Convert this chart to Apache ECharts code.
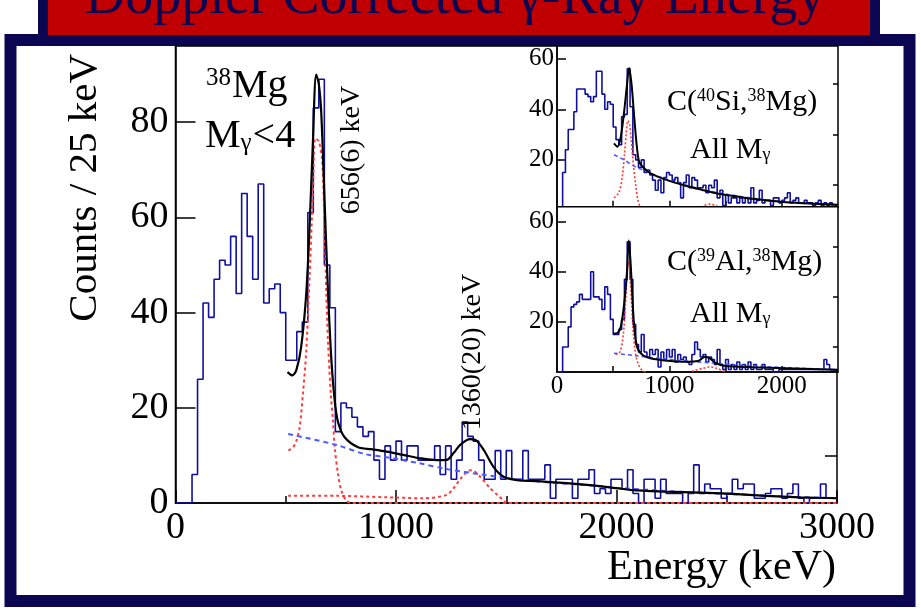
<!DOCTYPE html>
<html>
<head>
<meta charset="utf-8">
<script src="https://cdn.jsdelivr.net/npm/echarts@6/dist/echarts.min.js"></script>
<style>
  html, body { margin: 0; padding: 0; background: #ffffff; }
  #chart { width: 921px; height: 614px; }
</style>
</head>
<body>
<div id="chart"></div>
<script>
// 38Mg gamma-ray spectra, 25 keV bins
const binWidth = 25;

// Main spectrum (M_gamma < 4), bins starting at 0 keV
const mainCounts = [
  0, 0, 0, 6, 26, 42, 39, 47, 51, 50,
  56, 44, 65, 56, 47, 67, 42, 45, 46, 40,
  30, 30, 36, 38, 61, 83, 89, 50, 41, 15,
  21, 20, 18, 16, 14, 15, 9, 5, 12, 9,
  13, 9, 12, 12, 9, 9, 9, 12, 6, 12,
  5, 9, 17, 14, 13, 9, 5, 5, 11, 5,
  11, 5, 5, 11, 5, 5, 5, 8, 1, 5,
  5, 5, 1, 5, 5, 7, 2, 3, 2, 5,
  5, 3, 7, 2, 0, 5, 5, 1, 5, 2,
  2, 2, 0, 2, 8, 2, 4, 3, 3, 1,
  2, 5, 3, 4, 4, 1, 1, 2, 3, 3,
  1, 2, 4, 1, 0, 1, 1, 4, 1, 1
];

// Inset: C(40Si,38Mg), all multiplicities
const si40Counts = [
  0, 0, 15, 24, 32, 32, 39, 48, 48, 48,
  46, 45, 43, 45, 55, 55, 46, 40, 43, 42,
  33, 28, 26, 37, 38, 56, 41, 22, 20, 17,
  20, 15, 16, 14, 12, 8, 12, 7, 13, 15,
  14, 12, 13, 11, 5, 11, 14, 9, 13, 12,
  9, 9, 10, 7, 10, 9, 12, 5, 8, 2,
  6, 3, 5, 5, 3, 5, 3, 5, 3, 9,
  3, 4, 8, 3, 4, 4, 2, 5, 5, 3,
  4, 5, 7, 3, 4, 5, 3, 3, 4, 3,
  3, 2, 3, 4, 2, 3, 2, 3, 1, 2
];

// Inset: C(39Al,38Mg), all multiplicities
const al39Counts = [
  0, 0, 10, 10, 18, 26, 27, 28, 31, 29,
  29, 29, 40, 30, 30, 29, 25, 34, 31, 21,
  15, 15, 17, 21, 37, 52, 37, 19, 11, 8,
  15, 8, 6, 9, 7, 9, 2, 8, 5, 9,
  6, 9, 4, 7, 5, 6, 4, 3, 7, 12,
  9, 6, 7, 4, 6, 5, 3, 9, 3, 1,
  5, 1, 3, 1, 4, 1, 3, 1, 4, 1,
  3, 1, 1, 3, 1, 1, 1, 0, 0, 1,
  1, 1, 1, 1, 1, 1, 1, 1, 1, 1,
  1, 1, 1, 1, 1, 5, 3, 1, 1, 1
];

// Fit components, main spectrum [keV, counts]
const mainTotalFit = [
  [508, 27.5], [530, 26.8], [548, 27.9], [570, 32.8], [593, 44], [608, 58],
  [623, 75.6], [638, 90], [650, 88], [661, 82], [676, 63.6], [692, 44],
  [707, 30], [722, 21.5], [737, 17], [767, 13.8], [828, 11.7], [888, 11.3],
  [957, 10.8], [1033, 10.1], [1109, 9.4], [1185, 9.0], [1230, 9.05],
  [1261, 10.5], [1291, 12.2], [1336, 13.4], [1359, 13.3], [1397, 11.2],
  [1442, 7.6], [1488, 5.5], [1548, 4.8], [1640, 4.6], [1700, 4.4],
  [1842, 3.9], [1970, 3.3], [2072, 2.7], [2223, 2.4], [2375, 2.2],
  [2527, 1.9], [2678, 1.5], [2830, 1.2], [3000, 1.0]
];
const mainBackground = [
  [511, 14.5], [730, 12.2], [857, 10.3], [957, 9.6], [1100, 8.4],
  [1235, 7.1], [1387, 6.0], [1539, 5.0], [1700, 4.3], [1850, 3.8],
  [2000, 3.2], [2200, 2.6], [2400, 2.1], [2600, 1.7], [2800, 1.3], [3000, 1.0]
];
const mainLine656 = [
  [512, 11], [533, 11.7], [548, 13], [563, 15.9], [578, 23], [593, 32],
  [608, 47.5], [623, 65], [634, 76.6], [650, 76], [665, 72], [676, 58],
  [684, 44], [692, 33.5], [704, 23], [714, 17.3], [722, 11.7], [737, 6.1],
  [752, 2.6], [775, 0.5], [798, 0], [3000, 0]
];
const mainLine1360 = [
  [511, 1.5], [730, 1.5], [957, 1.2], [1124, 1.0], [1230, 1.7], [1261, 3.1],
  [1291, 5.0], [1329, 6.8], [1344, 6.9], [1382, 5.5], [1427, 3.1],
  [1465, 1.5], [1488, 0.5], [1503, 0], [3000, 0]
];

// Fit components, C(40Si,38Mg) inset
const si40TotalFit = [
  [507, 26.5], [537, 25.2], [567, 29], [597, 39], [621, 49], [642, 56.3],
  [663, 50], [687, 37], [711, 25], [732, 19.2], [777, 16.6], [837, 14.6],
  [987, 11.9], [1137, 9.9], [1287, 8.2], [1437, 6.6], [1587, 5.6],
  [1737, 4.6], [2037, 3.3], [2337, 2.6], [2500, 2.25]
];
const si40Background = [
  [507, 22], [597, 20], [687, 17.5], [777, 15.8], [900, 13.5], [1100, 10.6],
  [1300, 8.2], [1500, 6.5], [1800, 4.5], [2100, 3.2], [2500, 2.1]
];
const si40Line656 = [
  [507, 5], [550, 7], [580, 13], [600, 22], [615, 30], [630, 35.5],
  [645, 34], [660, 28], [680, 18], [700, 10], [720, 4], [740, 1.5], [760, 0]
];
const si40Line1360 = [
  [1250, 0.5], [1300, 1.8], [1360, 2.5], [1420, 1.8], [1480, 0.5]
];

// Fit components, C(39Al,38Mg) inset
const al39TotalFit = [
  [507, 15.4], [537, 15.6], [567, 18], [597, 27], [621, 39], [639, 52.5],
  [657, 42], [675, 26], [693, 15.4], [717, 9.4], [762, 6.8], [837, 5.4],
  [987, 4.5], [1137, 4.1], [1257, 4.4], [1317, 6.1], [1362, 5.4],
  [1407, 3.7], [1497, 2.4], [1737, 1.9], [2037, 1.5], [2337, 1.1], [2500, 0.8]
];
const al39Background = [
  [507, 7.5], [700, 6.5], [900, 5.5], [1200, 4.2], [1400, 3.5],
  [1600, 2.8], [2000, 1.8], [2500, 0.9]
];
const al39Line656 = [
  [520, 7], [560, 8], [590, 15], [610, 28], [625, 40], [636, 44],
  [650, 38], [665, 26], [680, 15], [700, 7], [725, 3], [760, 0.5], [800, 0]
];
const al39Line1360 = [
  [1200, 0.3], [1300, 1.5], [1360, 2], [1420, 1.5], [1500, 0]
];

// Axis ticks
const mainXTicks = [0, 1000, 2000, 3000];
const mainYMajor = [0, 20, 40, 60, 80];
const mainYMinor = [10, 30, 50, 70, 90];
const insetXLabels = [0, 1000, 2000];
const insetXTicks = [500, 1000, 1500, 2000];
const insetYMajor = [20, 40, 60];
const insetYMinor = [10, 30, 50];

const SERIF = 'Liberation Serif';
const HIST = '#1010a0';
const FIT = '#000000';
const RED = '#ff3b3b';
const BLUE = '#4a5cff';
const NAVY = '#0b0552';

function histPoints(counts) {
  const pts = counts.map((c, i) => [i * binWidth, c]);
  pts.push([counts.length * binWidth, counts[counts.length - 1]]);
  return pts;
}
const plain = v => String(v);

// Main plot box and two insets (pixel layout of the page)
const grids = [
  { left: 175.5, top: 46, width: 661.5, height: 457 },
  { left: 557, top: 46, width: 281, height: 160.7 },
  { left: 557, top: 206.7, width: 281, height: 165.3 }
].map((g, i) => Object.assign(g, {
  show: true, backgroundColor: '#ffffff', borderColor: '#000000',
  borderWidth: 1.5, z: i === 0 ? 0 : 10 + i * 10
}));

function xAxisFor(gi, max, labels, ticks, tickLen, minorLen, showLabels, fontSize, z) {
  const ax = {
    type: 'value', gridIndex: gi, min: 0, max: max, z: z,
    axisLine: { show: true, onZero: false, lineStyle: { color: '#000', width: 1.5 } },
    splitLine: { show: false },
    axisTick: { show: true, inside: true, length: tickLen, lineStyle: { color: '#000', width: 1.5 } },
    axisLabel: {
      show: showLabels, color: '#000', fontFamily: SERIF, fontSize: fontSize, formatter: plain,
      margin: gi === 0 ? 6 : 2, showMinLabel: true, showMaxLabel: true
    }
  };
  if (gi === 0) {
    ax.interval = 1000;
    ax.minorTick = { show: true, splitNumber: 2, length: minorLen, lineStyle: { color: '#000', width: 1.5 } };
  } else {
    ax.axisLabel.customValues = labels;
    ax.axisTick.customValues = ticks;
  }
  return ax;
}

function yAxisFor(gi, min, max, values, tickLen, withLabels, fontSize, z) {
  return {
    type: 'value', gridIndex: gi, min: min, max: max, z: z,
    axisLine: { show: withLabels, onZero: false, lineStyle: { color: '#000', width: 1.5 } },
    splitLine: { show: false },
    axisTick: { show: true, inside: true, length: tickLen, customValues: values,
      lineStyle: { color: '#000', width: 1.5 } },
    axisLabel: {
      show: withLabels, customValues: values, color: '#000', fontFamily: SERIF,
      fontSize: fontSize, margin: gi === 0 ? 7 : 3, formatter: plain
    }
  };
}

const xAxes = [
  xAxisFor(0, 3000, mainXTicks, null, 13, 7, true, 38, 1),
  xAxisFor(1, 2500, insetXLabels, insetXTicks, 6, 0, false, 25, 21),
  xAxisFor(2, 2500, insetXLabels, insetXTicks, 6, 0, true, 25, 31)
];
const yAxes = [
  yAxisFor(0, 0, 96, mainYMajor, 20, true, 38, 1),
  yAxisFor(0, 0, 96, mainYMinor, 12, false, 38, 1),
  yAxisFor(1, 1.5, 65, insetYMajor, 9, true, 25, 21),
  yAxisFor(1, 1.5, 65, insetYMinor, 5, false, 25, 21),
  yAxisFor(2, 0, 66, insetYMajor, 9, true, 25, 31),
  yAxisFor(2, 0, 66, insetYMinor, 5, false, 25, 31)
];

function histSeries(counts, xi, yi, z) {
  return {
    type: 'line', data: histPoints(counts), step: 'end', xAxisIndex: xi, yAxisIndex: yi,
    symbol: 'none', z: z, clip: true, silent: true,
    lineStyle: { color: HIST, width: 1.6 }, animation: false
  };
}
function curveSeries(pts, xi, yi, color, width, dash, z) {
  return {
    type: 'line', data: pts, xAxisIndex: xi, yAxisIndex: yi, symbol: 'none', z: z,
    smooth: 0.3, clip: true, silent: true, animation: false,
    lineStyle: { color: color, width: width, type: dash }
  };
}

const series = [
  histSeries(mainCounts, 0, 0, 2),
  curveSeries(mainLine1360, 0, 0, RED, 2, [3, 3], 3),
  curveSeries(mainLine656, 0, 0, RED, 2, [3, 3], 3),
  curveSeries(mainBackground, 0, 0, BLUE, 2, [5, 4], 3),
  curveSeries(mainTotalFit, 0, 0, FIT, 2.2, 'solid', 4),

  histSeries(si40Counts, 1, 2, 22),
  curveSeries(si40Line1360, 1, 2, RED, 1.6, [2, 2], 23),
  curveSeries(si40Line656, 1, 2, RED, 1.6, [2, 2], 23),
  curveSeries(si40Background, 1, 2, BLUE, 1.6, [4, 3], 23),
  curveSeries(si40TotalFit, 1, 2, FIT, 2, 'solid', 24),

  histSeries(al39Counts, 2, 4, 32),
  curveSeries(al39Line1360, 2, 4, RED, 1.6, [2, 2], 33),
  curveSeries(al39Line656, 2, 4, RED, 1.6, [2, 2], 33),
  curveSeries(al39Background, 2, 4, BLUE, 1.6, [4, 3], 33),
  curveSeries(al39TotalFit, 2, 4, FIT, 2, 'solid', 34)
];

const bigRich = {
  big: { fontFamily: SERIF, fontSize: 40, color: '#000' },
  sup: { fontFamily: SERIF, fontSize: 25, color: '#000', padding: [0, 1, 16, 0] },
  sub: { fontFamily: SERIF, fontSize: 25, color: '#000', padding: [14, 1, 0, 0] }
};
const insetRich = {
  big: { fontFamily: SERIF, fontSize: 30, color: '#000' },
  sup: { fontFamily: SERIF, fontSize: 18, color: '#000', padding: [0, 0, 12, 0] },
  sub: { fontFamily: SERIF, fontSize: 18, color: '#000', padding: [10, 0, 0, 0] }
};

function label(x, y, text, rich, extra) {
  return Object.assign({
    type: 'text', x: x, y: y, z: 100, silent: true,
    style: { text: text, rich: rich, textAlign: 'left', textVerticalAlign: 'middle' }
  }, extra || {});
}

const graphic = [
  // slide frame
  { type: 'rect', z: -10, silent: true, shape: { x: 10.5, y: 40, width: 899, height: 561 },
    style: { fill: 'none', stroke: NAVY, lineWidth: 12 } },
  // title banner
  { type: 'rect', z: 50, silent: true, shape: { x: 43, y: -20, width: 832, height: 60 },
    style: { fill: '#c00000', stroke: NAVY, lineWidth: 10 } },
  { type: 'text', z: 51, silent: true, x: 455, y: -2,
    style: { text: 'Doppler Corrected \u03b3-Ray Energy', fontFamily: SERIF, fontSize: 56,
      fill: NAVY, textAlign: 'center', textVerticalAlign: 'middle' } },

  // axis titles
  { type: 'text', z: 100, silent: true, x: 836, y: 568,
    style: { text: 'Energy (keV)', fontFamily: SERIF, fontSize: 42, fill: '#000',
      textAlign: 'right', textVerticalAlign: 'middle' } },
  { type: 'text', z: 100, silent: true, x: 85, y: 54, rotation: Math.PI / 2,
    style: { text: 'Counts / 25 keV', fontFamily: SERIF, fontSize: 41, fill: '#000',
      textAlign: 'right', textVerticalAlign: 'middle' } },

  // main plot labels
  label(206, 86, '{sup|38}{big|Mg}', bigRich),
  label(205, 136, '{big|M}{sub|\u03b3}{big|<4}', bigRich),
  { type: 'text', z: 100, silent: true, x: 352, y: 150, rotation: Math.PI / 2,
    style: { text: '656(6) keV', fontFamily: SERIF, fontSize: 28, fill: '#000',
      textAlign: 'center', textVerticalAlign: 'middle' } },
  { type: 'text', z: 100, silent: true, x: 473, y: 352, rotation: Math.PI / 2,
    style: { text: '1360(20) keV', fontFamily: SERIF, fontSize: 28, fill: '#000',
      textAlign: 'center', textVerticalAlign: 'middle' } },

  // inset labels
  label(667, 102, '{big|C(}{sup|40}{big|Si,}{sup|38}{big|Mg)}', insetRich),
  label(690, 150, '{big|All M}{sub|\u03b3}', insetRich),
  label(667, 262, '{big|C(}{sup|39}{big|Al,}{sup|38}{big|Mg)}', insetRich),
  label(690, 314, '{big|All M}{sub|\u03b3}', insetRich)
];

const chart = echarts.init(document.getElementById('chart'), null, { renderer: 'canvas' });
chart.setOption({
  animation: false,
  backgroundColor: '#ffffff',
  grid: grids,
  xAxis: xAxes,
  yAxis: yAxes,
  series: series,
  graphic: graphic
});
</script>
</body>
</html>
